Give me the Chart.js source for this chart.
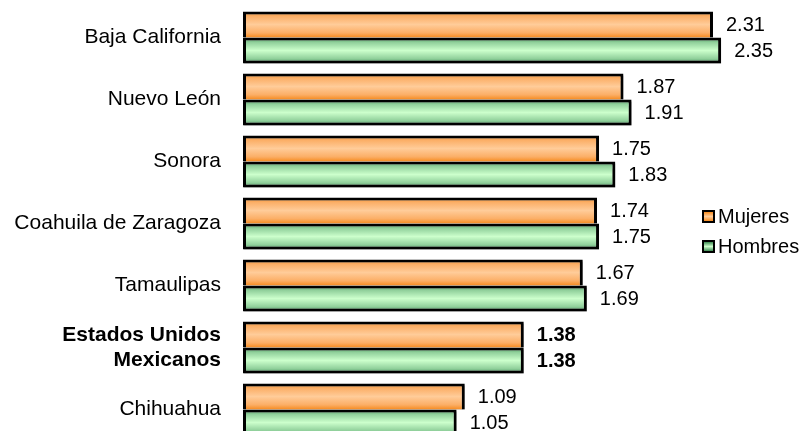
<!DOCTYPE html>
<html>
<head>
<meta charset="utf-8">
<script src="https://cdn.jsdelivr.net/npm/chart.js@4"></script>
<style>
  html, body { margin: 0; padding: 0; background: #fff; overflow: hidden; }
  #wrap { position: relative; width: 804px; height: 445px; }
  #legend { position: absolute; left: 702px; top: 201px; font-family: "Liberation Sans", Arial, sans-serif; font-size: 20px; color: #000; }
  .item { display: flex; align-items: center; height: 30px; }
  .box { width: 9px; height: 9px; border: 2px solid #000; margin-right: 3px; }
  .box.m { background: linear-gradient(#f68b1f, #ffcc99 50%, #f68b1f); }
  .box.h { background: linear-gradient(#3d8a52, #ccffcc 50%, #3d8a52); }
</style>
</head>
<body>
<div id="wrap">
  <canvas id="c" width="804" height="445"></canvas>
  <div id="legend">
    <div class="item"><span class="box m"></span>Mujeres</div>
    <div class="item"><span class="box h"></span>Hombres</div>
  </div>
</div>
<script>
const categories = [
  'Baja California',
  'Nuevo León',
  'Sonora',
  'Coahuila de Zaragoza',
  'Tamaulipas',
  ['Estados Unidos', 'Mexicanos'],
  'Chihuahua'
];
const mujeres = [2.31, 1.87, 1.75, 1.74, 1.67, 1.38, 1.09];
const hombres = [2.35, 1.91, 1.83, 1.75, 1.69, 1.38, 1.05];
const nationalIndex = 5;

const CAT_PCT = 0.839;
const FONT = '"Liberation Sans", Arial, sans-serif';

// Vertical gradient across each bar: darker edges, light centre
function barGradient(stops) {
  return function (ctx) {
    const chart = ctx.chart;
    if (!chart.chartArea || !chart.scales.y) return stops[2];
    const y = chart.scales.y;
    const band = Math.abs(y.getPixelForValue(1) - y.getPixelForValue(0));
    const h = band * CAT_PCT / 2;
    const center = y.getPixelForValue(ctx.dataIndex);
    const top = ctx.datasetIndex === 0 ? center - h : center;
    const g = chart.ctx.createLinearGradient(0, top, 0, top + h);
    g.addColorStop(0, stops[0]);
    g.addColorStop(0.18, stops[1]);
    g.addColorStop(0.5, stops[2]);
    g.addColorStop(0.82, stops[1]);
    g.addColorStop(1, stops[0]);
    return g;
  };
}

// Soft grey drop shadow under the bars
const barShadow = {
  id: 'barShadow',
  beforeDatasetsDraw(chart) {
    const ctx = chart.ctx;
    ctx.save();
    ctx.shadowColor = 'rgba(0,0,0,0.3)';
    ctx.shadowOffsetX = 1;
    ctx.shadowOffsetY = 2;
    ctx.shadowBlur = 1;
  },
  afterDatasetsDraw(chart) {
    chart.ctx.restore();
  }
};

// Value printed just past the end of each bar
const valueLabels = {
  id: 'valueLabels',
  afterDatasetsDraw(chart) {
    const ctx = chart.ctx;
    ctx.save();
    ctx.fillStyle = '#000';
    ctx.textAlign = 'left';
    ctx.textBaseline = 'middle';
    chart.data.datasets.forEach((ds, di) => {
      chart.getDatasetMeta(di).data.forEach((bar, i) => {
        ctx.font = (i === nationalIndex ? 'bold ' : '') + '20px ' + FONT;
        ctx.fillText(ds.data[i].toFixed(2), bar.x + 13, bar.y + 1);
      });
    });
    ctx.restore();
  }
};

new Chart(document.getElementById('c'), {
  type: 'bar',
  data: {
    labels: categories,
    datasets: [
      {
        label: 'Mujeres',
        data: mujeres,
        backgroundColor: barGradient(['#f68b1f', '#fbae66', '#ffcc99']),
        borderColor: '#000',
        borderWidth: { top: 3, left: 3, right: 3, bottom: 0 },
        borderSkipped: false
      },
      {
        label: 'Hombres',
        data: hombres,
        backgroundColor: barGradient(['#3d8a52', '#8fcf9a', '#ccffcc']),
        borderColor: '#000',
        borderWidth: 3,
        borderSkipped: false
      }
    ]
  },
  options: {
    indexAxis: 'y',
    responsive: false,
    animation: false,
    devicePixelRatio: 1,
    layout: { padding: { left: 0, right: 32, top: 6.5, bottom: 4.5 } },
    datasets: { bar: { categoryPercentage: CAT_PCT, barPercentage: 1 } },
    plugins: {
      legend: { display: false },
      tooltip: { enabled: false }
    },
    scales: {
      x: {
        display: false,
        min: 0,
        max: 2.6
      },
      y: {
        afterFit(scale) {
          scale.width = 243;
          scale.paddingTop = 0;
          scale.paddingBottom = 0;
        },
        grid: { display: false, drawTicks: false },
        border: { display: false },
        ticks: {
          padding: 22,
          color: '#000',
          font: (c) => ({ family: FONT, size: 21, weight: c.index === nationalIndex ? 'bold' : 'normal', lineHeight: 1.2 })
        }
      }
    }
  },
  plugins: [barShadow, valueLabels]
});
</script>
</body>
</html>
